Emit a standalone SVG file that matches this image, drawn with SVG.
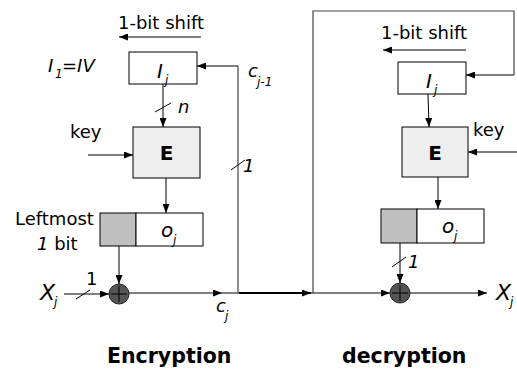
<svg xmlns="http://www.w3.org/2000/svg" width="517" height="372" viewBox="0 0 517 372">
<style>
text{font-family:"DejaVu Sans","Liberation Sans",sans-serif;fill:#000}
.t{font-size:18px}
.i{font-style:italic}
.b{font-weight:bold}
.s{font-size:12px;font-style:italic}
.ln{stroke:#000;stroke-width:1;fill:none}
.gl{stroke:#444;stroke-width:1.2;fill:none}
.box{fill:#fff;stroke:#000;stroke-width:1}
.ebox{fill:#eeeeee;stroke:#000;stroke-width:1}
.gray{fill:#c0c0c0;stroke:#000;stroke-width:1}
.xor{fill:#555;stroke:#222;stroke-width:1}
</style>
<defs>
<marker id="ah" markerWidth="9" markerHeight="7" refX="9" refY="3.5" orient="auto" markerUnits="userSpaceOnUse">
<path d="M0,0 L9,3.5 L0,7 Z" fill="#000"/>
</marker>
</defs>

<g id="enc-shift-label">
<text class="t" x="118" y="29">1-bit shift</text>
</g>
<g id="enc-Ij">
<rect class="box" x="129" y="52" width="68" height="32"/>
<text class="i" font-size="20" x="157" y="78">I</text><text class="s" x="165" y="84">j</text>
</g>
<g id="enc-iv-label">
<text class="i" font-size="18" x="48" y="72">I</text><text class="s" x="55" y="78">1</text><text class="i" font-size="18" x="62" y="72">=IV</text>
</g>
<g id="enc-E">
<rect class="ebox" x="133" y="127" width="67" height="51"/>
<text class="b" font-size="20" x="166.5" y="160" text-anchor="middle">E</text>
</g>
<g id="enc-key">
<text class="t" x="70" y="138">key</text>
</g>
<g id="enc-oj">
<rect class="gray" x="100" y="213" width="36" height="33"/>
<rect class="box" x="136" y="213" width="67" height="33"/>
<text class="i" font-size="20" x="161" y="237">o</text><text class="s" x="173" y="244">j</text>
</g>
<g id="enc-leftmost">
<text class="t" x="15" y="225">Leftmost</text>
<text class="t" x="37" y="250"><tspan class="i">1</tspan> bit</text>
</g>
<g id="enc-xor">
<circle class="xor" cx="119" cy="294" r="10"/>
<path class="ln" d="M111,294 H127 M119,286 V302"/>
</g>
<g id="enc-xj">
<text class="i" font-size="22" x="40" y="300">X</text><text class="s" x="54" y="306">j</text>
</g>
<g id="cj1-label">
<text class="i" font-size="18" x="248" y="77">c</text><text class="s" x="257" y="86">j-1</text>
</g>
<g id="cj-label">
<text class="i" font-size="18" x="216" y="312">c</text><text class="s" x="225" y="320">j</text>
</g>

<g id="dec-shift-label">
<text class="t" x="381" y="39">1-bit shift</text>
</g>
<g id="dec-Ij">
<rect class="box" x="398" y="62" width="68" height="32"/>
<text class="i" font-size="20" x="426" y="88">I</text><text class="s" x="434" y="94">j</text>
</g>
<g id="dec-E">
<rect class="ebox" x="402" y="127" width="66" height="50"/>
<text class="b" font-size="20" x="435" y="160" text-anchor="middle">E</text>
</g>
<g id="dec-key">
<text class="t" x="473" y="136">key</text>
</g>
<g id="dec-oj">
<rect class="gray" x="381" y="209" width="36" height="34"/>
<rect class="box" x="417" y="209" width="67" height="34"/>
<text class="i" font-size="20" x="442" y="233">o</text><text class="s" x="454" y="240">j</text>
</g>
<g id="dec-xor">
<circle class="xor" cx="400" cy="293" r="10"/>
<path class="ln" d="M392,293 H408 M400,285 V301"/>
</g>
<g id="dec-xj">
<text class="i" font-size="22" x="496" y="300">X</text><text class="s" x="510" y="306">j</text>
</g>

<g id="titles">
<text class="b" font-size="20.5" x="107" y="363">Encryption</text>
<text class="b" font-size="20.5" x="342" y="363">decryption</text>
</g>

<g id="connectors">
<line class="ln" x1="201" y1="37" x2="119" y2="37" marker-end="url(#ah)"/>
<line class="ln" x1="163" y1="84" x2="163" y2="127" marker-end="url(#ah)"/>
<line class="ln" x1="155" y1="112" x2="171" y2="103"/>
<text class="i t" x="178" y="113">n</text>
<line class="ln" x1="88" y1="155" x2="133" y2="155" marker-end="url(#ah)"/>
<line class="ln" x1="166" y1="178" x2="166" y2="213" marker-end="url(#ah)"/>
<line class="ln" x1="119" y1="246" x2="119" y2="284" marker-end="url(#ah)"/>
<line class="ln" x1="64" y1="294" x2="109" y2="294" marker-end="url(#ah)"/>
<line class="ln" x1="76" y1="299" x2="90" y2="290"/>
<text class="t" x="86" y="285">1</text>
<line class="ln" x1="129" y1="293" x2="222" y2="293" marker-end="url(#ah)"/>
<line class="ln" x1="222" y1="293" x2="239" y2="293"/>
<path class="gl" d="M238,293 V66"/>
<line class="ln" x1="238" y1="66" x2="197" y2="66" marker-end="url(#ah)"/>
<line class="ln" x1="231" y1="170" x2="245" y2="160"/>
<text class="i t" x="243" y="172">1</text>
<line x1="239" y1="293" x2="311" y2="293" stroke="#000" stroke-width="2" marker-end="url(#ah)"/>
<line class="ln" x1="311" y1="293" x2="390" y2="293" marker-end="url(#ah)"/>
<path class="gl" d="M313,293 V11 H514 V75"/>
<line class="ln" x1="514" y1="75" x2="466" y2="75" marker-end="url(#ah)"/>
<line class="ln" x1="466" y1="50" x2="383" y2="50" marker-end="url(#ah)"/>
<line class="ln" x1="428" y1="94" x2="429" y2="127" marker-end="url(#ah)"/>
<line class="ln" x1="517" y1="152" x2="468" y2="152" marker-end="url(#ah)"/>
<line class="ln" x1="438" y1="177" x2="438" y2="209" marker-end="url(#ah)"/>
<line class="ln" x1="400" y1="243" x2="400" y2="283" marker-end="url(#ah)"/>
<line class="ln" x1="392" y1="267" x2="406" y2="257"/>
<text class="i t" x="408" y="268">1</text>
<line class="ln" x1="410" y1="293" x2="487" y2="293" marker-end="url(#ah)"/>
</g>
</svg>
